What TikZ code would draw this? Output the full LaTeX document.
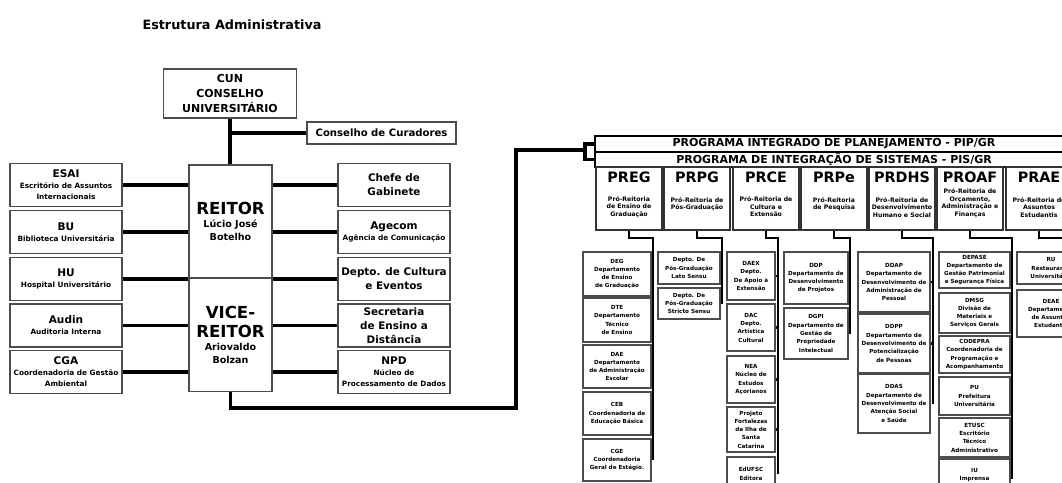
\documentclass[tikz,border=0pt]{standalone}
\usepackage{fontspec}
\setmainfont{DejaVu Sans}
\usetikzlibrary{positioning}

\newcommand{\hdbig}{\fontsize{11.8}{13}\selectfont}
\newcommand{\hdmid}{\fontsize{7.5}{9}\selectfont}

\begin{document}
\begin{tikzpicture}[
  x=0.025cm,
  y=-0.025cm,
  every node/.style={font=\bfseries, inner sep=1pt},
  sz/.style 2 args={minimum width=#1*0.025cm, minimum height=#2*0.025cm},
  box/.style={draw=black!70, line width=1.3pt, fill=white, align=center},
  unit/.style={box, sz={112}{43}, font=\fontsize{5.2}{7.8}\selectfont\bfseries},
  unitbig/.style={box, sz={112}{43}, font=\fontsize{7.4}{9.8}\selectfont\bfseries},
  chief/.style={box, sz={83}{113}, font=\fontsize{6.8}{9.4}\selectfont\bfseries},
  bar/.style={draw=black, line width=1.2pt, sz={478}{15.5}, font=\fontsize{7.8}{8}\selectfont\bfseries},
  prog/.style={draw=black!80, line width=1.4pt, sz={66}{63}},
  phead/.style={font=\fontsize{10.2}{11}\selectfont\bfseries},
  pdesc/.style={align=center, font=\fontsize{4.4}{5.3}\selectfont\bfseries},
  dept/.style={box, line width=1.1pt, font=\fontsize{4}{5.9}\selectfont\bfseries},
  link/.style={line width=2.6pt},
  trunk/.style={line width=2.1pt}
]
\useasboundingbox (0,0) rectangle (1062,482);
\clip (0,0) rectangle (1062,482);

% left: administracao central
\node[font=\fontsize{9.1}{10}\selectfont\bfseries] (title) at (232,25) {Estrutura Administrativa};
\node[box, sz={133}{49}, font=\fontsize{7.8}{11}\selectfont\bfseries] (cun) at (230,93.5) {CUN\\CONSELHO\\UNIVERSITÁRIO};
\node[box, sz={149}{22}, font=\fontsize{7.2}{8}\selectfont\bfseries] (cur) at (381.5,133) {Conselho de Curadores};

\node[chief] (reitor) at (230.5,221.5) {\hdbig REITOR\\Lúcio José\\Botelho};
\node[chief] (vice) at (230.5,335) {\hdbig VICE-\\[4pt]\hdbig REITOR\\Ariovaldo\\Bolzan};

\node[unit] (esai) at (66,185) {\hdmid ESAI\\Escritório de Assuntos\\Internacionais};
\node[unit] (bu) at (66,232) {\hdmid BU\\Biblioteca Universitária};
\node[unit] (hu) at (66,279) {\hdmid HU\\Hospital Universitário};
\node[unit] (audin) at (66,325.5) {\hdmid Audin\\Auditoria Interna};
\node[unit] (cga) at (66,372) {\hdmid CGA\\Coordenadoria de Gestão\\Ambiental};

\node[unitbig] (chefe) at (394,185) {Chefe de\\Gabinete};
\node[unit] (agecom) at (394,232) {\hdmid Agecom\\Agência de Comunicação};
\node[unitbig] (cultura) at (394,279) {Depto. de Cultura\\e Eventos};
\node[unitbig] (sead) at (394,325.5) {Secretaria\\de Ensino a\\Distância};
\node[unit] (npd) at (394,372) {\hdmid NPD\\Núcleo de\\Processamento de Dados};

\draw[link] (cun.south) -- (cun.south |- reitor.north);
\draw[link] (cun.south |- cur.west) -- (cur.west);
\draw[link] (esai.east) -- (esai.east -| reitor.west);
\draw[link] (bu.east) -- (bu.east -| reitor.west);
\draw[link] (hu.east) -- (hu.east -| reitor.west);
\draw[link] (audin.east) -- (audin.east -| vice.west);
\draw[link] (cga.east) -- (cga.east -| vice.west);
\draw[link] (chefe.west) -- (chefe.west -| reitor.east);
\draw[link] (agecom.west) -- (agecom.west -| reitor.east);
\draw[link] (cultura.west) -- (cultura.west -| reitor.east);
\draw[link] (sead.west) -- (sead.west -| vice.east);
\draw[link] (npd.west) -- (npd.west -| vice.east);

% right: pro-reitorias
\node[bar] (pip) at (834,144) {PROGRAMA INTEGRADO DE PLANEJAMENTO - PIP/GR};
\node[bar] (pis) at (834,159.5) {PROGRAMA DE INTEGRAÇÃO DE SISTEMAS - PIS/GR};

\coordinate (turn) at (516,408);
\coordinate (brk) at (585,150);
\draw[link] (vice.south) |- (turn) |- (brk);
\draw[link] (pip.west) -- (pip.west -| brk) -- (pis.west -| brk) -- (pis.west);

\node[prog] (preg) at (629,198.5) {};
\node[prog] (prpg) at (697,198.5) {};
\node[prog] (prce) at (766,198.5) {};
\node[prog] (prpe) at (834,198.5) {};
\node[prog] (prdhs) at (902,198.5) {};
\node[prog] (proaf) at (970,198.5) {};
\node[prog] (prae) at (1039,198.5) {};

\node[phead] (preg-h) at (629,177.5) {PREG};
\node[phead] (prpg-h) at (697,177.5) {PRPG};
\node[phead] (prce-h) at (766,177.5) {PRCE};
\node[phead] (prpe-h) at (834,177.5) {PRPe};
\node[phead] (prdhs-h) at (902,177.5) {PRDHS};
\node[phead] (proaf-h) at (970,177.5) {PROAF};
\node[phead] (prae-h) at (1039,177.5) {PRAE};

\node[pdesc] (preg-d) at (629,207) {Pró-Reitoria\\de Ensino de\\Graduação};
\node[pdesc] (prpg-d) at (697,204) {Pró-Reitoria de\\Pós-Graduação};
\node[pdesc] (prce-d) at (766,207) {Pró-Reitoria de\\Cultura e\\Extensão};
\node[pdesc] (prpe-d) at (834,204) {Pró-Reitoria\\de Pesquisa};
\node[pdesc] (prdhs-d) at (902,207.5) {Pró-Reitoria de\\Desenvolvimento\\Humano e Social};
\node[pdesc] (proaf-d) at (970,203) {Pró-Reitoria de\\Orçamento,\\Administração e\\Finanças};
\node[pdesc] (prae-d) at (1039,207.5) {Pró-Reitoria de\\Assuntos\\Estudantis};

% departamentos
\node[dept, sz={68}{44}] (deg) at (617,274) {DEG\\Departamento\\de Ensino\\de Graduação};
\node[dept, sz={68}{44}] (dte) at (617,320) {DTE\\Departamento\\Técnico\\de Ensino};
\node[dept, sz={68}{43}] (dae) at (617,366.5) {DAE\\Departamento\\de Administração\\Escolar};
\node[dept, sz={68}{43}] (ceb) at (617,413.5) {CEB\\Coordenadoria de\\Educação Básica};
\node[dept, sz={68}{42}] (cge) at (617,460) {CGE\\Coordenadoria\\Geral de Estágio.};

\node[dept, sz={62}{32}] (lato) at (689,268) {Depto. De\\Pós-Graduação\\Lato Sensu};
\node[dept, sz={62}{31}] (stricto) at (689,303.5) {Depto. De\\Pós-Graduação\\Stricto Sensu};

\node[dept, sz={48}{48}] (daex) at (751,276) {DAEX\\Depto.\\De Apoio à\\Extensão};
\node[dept, sz={48}{47}] (dac) at (751,327.5) {DAC\\Depto.\\Artística\\Cultural};
\node[dept, sz={48}{47}] (nea) at (751,379.5) {NEA\\Núcleo de\\Estudos\\Açorianos};
\node[dept, sz={48}{45}] (proj) at (751,429.5) {Projeto\\Fortalezas\\da Ilha de\\Santa\\Catarina};
\node[dept, sz={48}{34}] (edufsc) at (751,474) {EdUFSC\\Editora};

\node[dept, sz={64}{52}] (ddp) at (816,278) {DDP\\Departamento de\\Desenvolvimento\\de Projetos};
\node[dept, sz={64}{51}] (dgpi) at (816,333.5) {DGPI\\Departamento de\\Gestão de\\Propriedade\\Intelectual};

\node[dept, sz={72}{60}] (ddap) at (894,282) {DDAP\\Departamento de\\Desenvolvimento de\\Administração de\\Pessoal};
\node[dept, sz={72}{59}] (ddpp) at (894,343.5) {DDPP\\Departamento de\\Desenvolvimento de\\Potencialização\\de Pessoas};
\node[dept, sz={72}{59}] (ddas) at (894,403.5) {DDAS\\Departamento de\\Desenvolvimento de\\Atenção Social\\e Saúde};

\node[dept, sz={71}{36}] (depase) at (974.5,270) {DEPASE\\Departamento de\\Gestão Patrimonial\\e Segurança Física};
\node[dept, sz={71}{40}] (dmsg) at (974.5,313) {DMSG\\Divisão de\\Materiais e\\Serviços Gerais};
\node[dept, sz={71}{37}] (codepra) at (974.5,354.5) {CODEPRA\\Coordenadoria de\\Programação e\\Acompanhamento};
\node[dept, sz={71}{38}] (pu) at (974.5,396) {PU\\Prefeitura\\Universitária};
\node[dept, sz={71}{39}] (etusc) at (974.5,437.5) {ETUSC\\Escritório\\Técnico\\Administrativo};
\node[dept, sz={71}{39}] (iu) at (974.5,478.5) {IU\\Imprensa\\Universitária};

\node[dept, sz={68}{32}] (ru) at (1051,268) {RU\\Restaurante\\Universitário};
\node[dept, sz={68}{47}] (deae) at (1051,313.5) {DEAE\\Departamento\\de Assuntos\\Estudantis};

\coordinate (preg-t) at (653,238);
\coordinate (prpg-t) at (722,238);
\coordinate (prce-t) at (778,238);
\coordinate (prpe-t) at (850,238);
\coordinate (prdhs-t) at (933,238);
\coordinate (proaf-t) at (1012,238);
\coordinate (prae-t) at (1085,238);

\draw[trunk] (preg.south) |- (preg-t) -- (preg-t |- cge.east)
  (deg.east) -- (deg.east -| preg-t) (dte.east) -- (dte.east -| preg-t)
  (dae.east) -- (dae.east -| preg-t) (ceb.east) -- (ceb.east -| preg-t);
\draw[trunk] (prpg.south) |- (prpg-t) -- (prpg-t |- stricto.east)
  (lato.east) -- (lato.east -| prpg-t);
\draw[trunk] (prce.south) |- (prce-t) -- (prce-t |- edufsc.east)
  (daex.east) -- (daex.east -| prce-t) (dac.east) -- (dac.east -| prce-t)
  (nea.east) -- (nea.east -| prce-t) (proj.east) -- (proj.east -| prce-t);
\draw[trunk] (prpe.south) |- (prpe-t) -- (prpe-t |- dgpi.east)
  (ddp.east) -- (ddp.east -| prpe-t);
\draw[trunk] (prdhs.south) |- (prdhs-t) -- (prdhs-t |- ddas.east)
  (ddap.east) -- (ddap.east -| prdhs-t) (ddpp.east) -- (ddpp.east -| prdhs-t);
\draw[trunk] (proaf.south) |- (proaf-t) -- (proaf-t |- iu.east)
  (depase.east) -- (depase.east -| proaf-t) (dmsg.east) -- (dmsg.east -| proaf-t)
  (codepra.east) -- (codepra.east -| proaf-t) (pu.east) -- (pu.east -| proaf-t)
  (etusc.east) -- (etusc.east -| proaf-t);
\draw[trunk] (prae.south) |- (prae-t) -- (prae-t |- deae.east)
  (ru.east) -- (ru.east -| prae-t);
\end{tikzpicture}
\end{document}
